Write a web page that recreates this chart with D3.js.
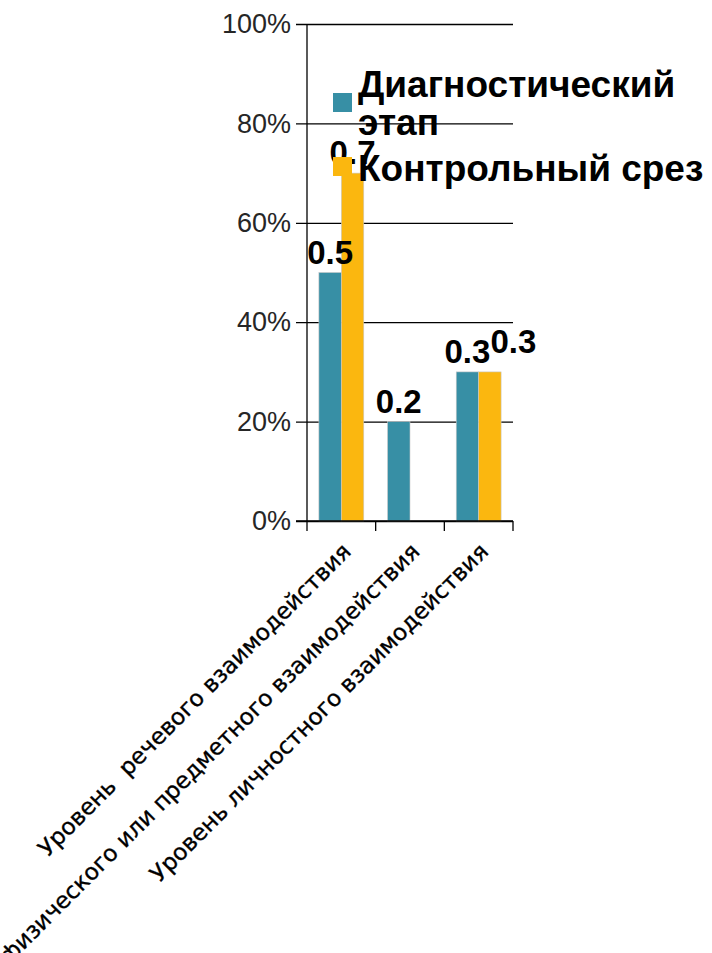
<!DOCTYPE html>
<html>
<head>
<meta charset="utf-8">
<script src="https://cdn.jsdelivr.net/npm/d3@7"></script>
<style>
  html, body { margin: 0; padding: 0; background: #fff; overflow: hidden; }
  svg { display: block; }
</style>
</head>
<body>
<svg id="chart" width="712" height="953"></svg>
<script>
// Categories (x axis) and the two measured stages
const categories = [
  "Уровень  речевого взаимодействия",
  "Уровень физического или предметного взаимодействия",
  "Уровень личностного взаимодействия"
];
const seriesNames = ["Диагностический этап", "Контрольный срез"];
const diagnosticValues = [0.5, 0.2, 0.3];
const controlValues = [0.7, null, 0.3];
const yTicks = [0, 0.2, 0.4, 0.6, 0.8, 1.0];
const colors = ["#378FA5", "#FBB70F"];

const series = [
  { name: seriesNames[0], values: diagnosticValues, color: colors[0] },
  { name: seriesNames[1], values: controlValues, color: colors[1] }
];

const svg = d3.select("#chart");
const plot = { left: 307, right: 513, top: 24, bottom: 521 };

const y = d3.scaleLinear().domain([0, 1]).range([plot.bottom, plot.top]);
const x0 = d3.scaleBand().domain(categories).range([plot.left, plot.right]).paddingInner(0).paddingOuter(0);
const x1 = d3.scaleBand().domain(seriesNames).range([0, x0.bandwidth()]).paddingInner(0).paddingOuter(0.53);

// Horizontal gridlines with short outside ticks
const yAxis = d3.axisLeft(y)
  .tickValues(yTicks)
  .tickFormat(d3.format(".0%"))
  .tickSize(-(plot.right - plot.left))
  .tickSizeOuter(0)
  .tickPadding(16);

const gy = svg.append("g")
  .attr("transform", `translate(${plot.left},0)`)
  .call(yAxis);
gy.select(".domain").remove();
gy.selectAll(".tick line")
  .attr("x1", -11)
  .attr("stroke", "#000")
  .attr("stroke-width", 1.3);
gy.selectAll(".tick text")
  .attr("fill", "#262626")
  .style("font-family", "'Liberation Sans', Arial, sans-serif")
  .style("font-size", "27px");

// Vertical axis line
svg.append("line")
  .attr("x1", plot.left).attr("x2", plot.left)
  .attr("y1", plot.top).attr("y2", plot.bottom)
  .attr("stroke", "#000").attr("stroke-width", 1.3);

// Bars
const groups = svg.append("g").selectAll("g")
  .data(categories)
  .join("g")
  .attr("transform", d => `translate(${x0(d)},0)`);

groups.selectAll("rect")
  .data((c, i) => series
    .filter(s => s.values[i] != null)
    .map(s => ({ name: s.name, value: s.values[i], color: s.color })))
  .join("rect")
  .attr("x", d => x1(d.name))
  .attr("width", x1.bandwidth())
  .attr("y", d => y(d.value))
  .attr("height", d => y(0) - y(d.value))
  .attr("fill", d => d.color)
  .attr("stroke", "#c8c8c8")
  .attr("stroke-width", 0.6);

// Horizontal axis with category dividers
const xAxis = d3.axisBottom(x0).tickSize(0).tickFormat("");
const gx = svg.append("g")
  .attr("transform", `translate(0,${plot.bottom})`)
  .call(xAxis);
gx.select(".domain").remove();
svg.append("line")
  .attr("x1", plot.left - 11).attr("x2", plot.right)
  .attr("y1", plot.bottom).attr("y2", plot.bottom)
  .attr("stroke", "#000").attr("stroke-width", 1.3);
const dividers = categories.map(c => x0(c)).concat([x0(categories[categories.length - 1]) + x0.bandwidth()]);
svg.append("g").selectAll("line")
  .data(dividers)
  .join("line")
  .attr("x1", d => d).attr("x2", d => d)
  .attr("y1", plot.bottom).attr("y2", plot.bottom + 10)
  .attr("stroke", "#000").attr("stroke-width", 1.3);

// Rotated category labels
svg.append("g").selectAll("text")
  .data(categories)
  .join("text")
  .attr("transform", d => `translate(${x0(d) + x0.bandwidth() / 2 + 11},${plot.bottom + 32}) rotate(-45)`)
  .attr("text-anchor", "end")
  .attr("fill", "#000")
  .attr("stroke", "#000")
  .attr("stroke-width", 0.35)
  .style("font-family", "'DejaVu Sans', Verdana, sans-serif")
  .style("font-size", "23px")
  .style("white-space", "pre")
  .text(d => d);

// Value labels above the bars; a label that would collide with its
// neighbour is pushed to the right of it and lifted a little
const labelFont = 33;
const labelData = [];
categories.forEach((c, i) => {
  series.forEach(s => {
    const v = s.values[i];
    if (v == null) return;
    labelData.push({ cx: x0(c) + x1(s.name) + x1.bandwidth() / 2, base: y(v) - 9, text: String(v) });
  });
});
const labelLayer = svg.append("g");
let prev = null;
labelData.forEach(d => {
  const t = labelLayer.append("text")
    .attr("text-anchor", "middle")
    .attr("fill", "#000")
    .style("font-family", "'Liberation Sans', Arial, sans-serif")
    .style("font-weight", "bold")
    .style("font-size", labelFont + "px")
    .attr("x", d.cx).attr("y", d.base)
    .text(d.text);
  let b = t.node().getBBox();
  if (prev && Math.abs(prev.y - b.y) < b.height && b.x < prev.x + prev.width) {
    const shift = prev.x + prev.width - b.x;
    t.attr("x", d.cx + shift).attr("y", d.base - 10);
    b = t.node().getBBox();
  }
  prev = b;
});

// Legend
const legend = svg.append("g");
const legendRows = [
  { lines: ["Диагностический", "этап"], swatchY: 93, baseY: 97 },
  { lines: ["Контрольный срез"], swatchY: 157, baseY: 181 }
];
legendRows.forEach((r, i) => {
  legend.append("rect")
    .attr("x", 333).attr("y", r.swatchY)
    .attr("width", 19).attr("height", 19)
    .attr("fill", series[i].color);
  const t = legend.append("text")
    .attr("x", 358).attr("y", r.baseY)
    .attr("fill", "#000")
    .style("font-family", "'Liberation Sans', Arial, sans-serif")
    .style("font-weight", "bold")
    .style("font-size", "37px");
  r.lines.forEach((line, k) => {
    t.append("tspan").attr("x", 358).attr("dy", k === 0 ? 0 : 38).text(line);
  });
});
</script>
</body>
</html>
